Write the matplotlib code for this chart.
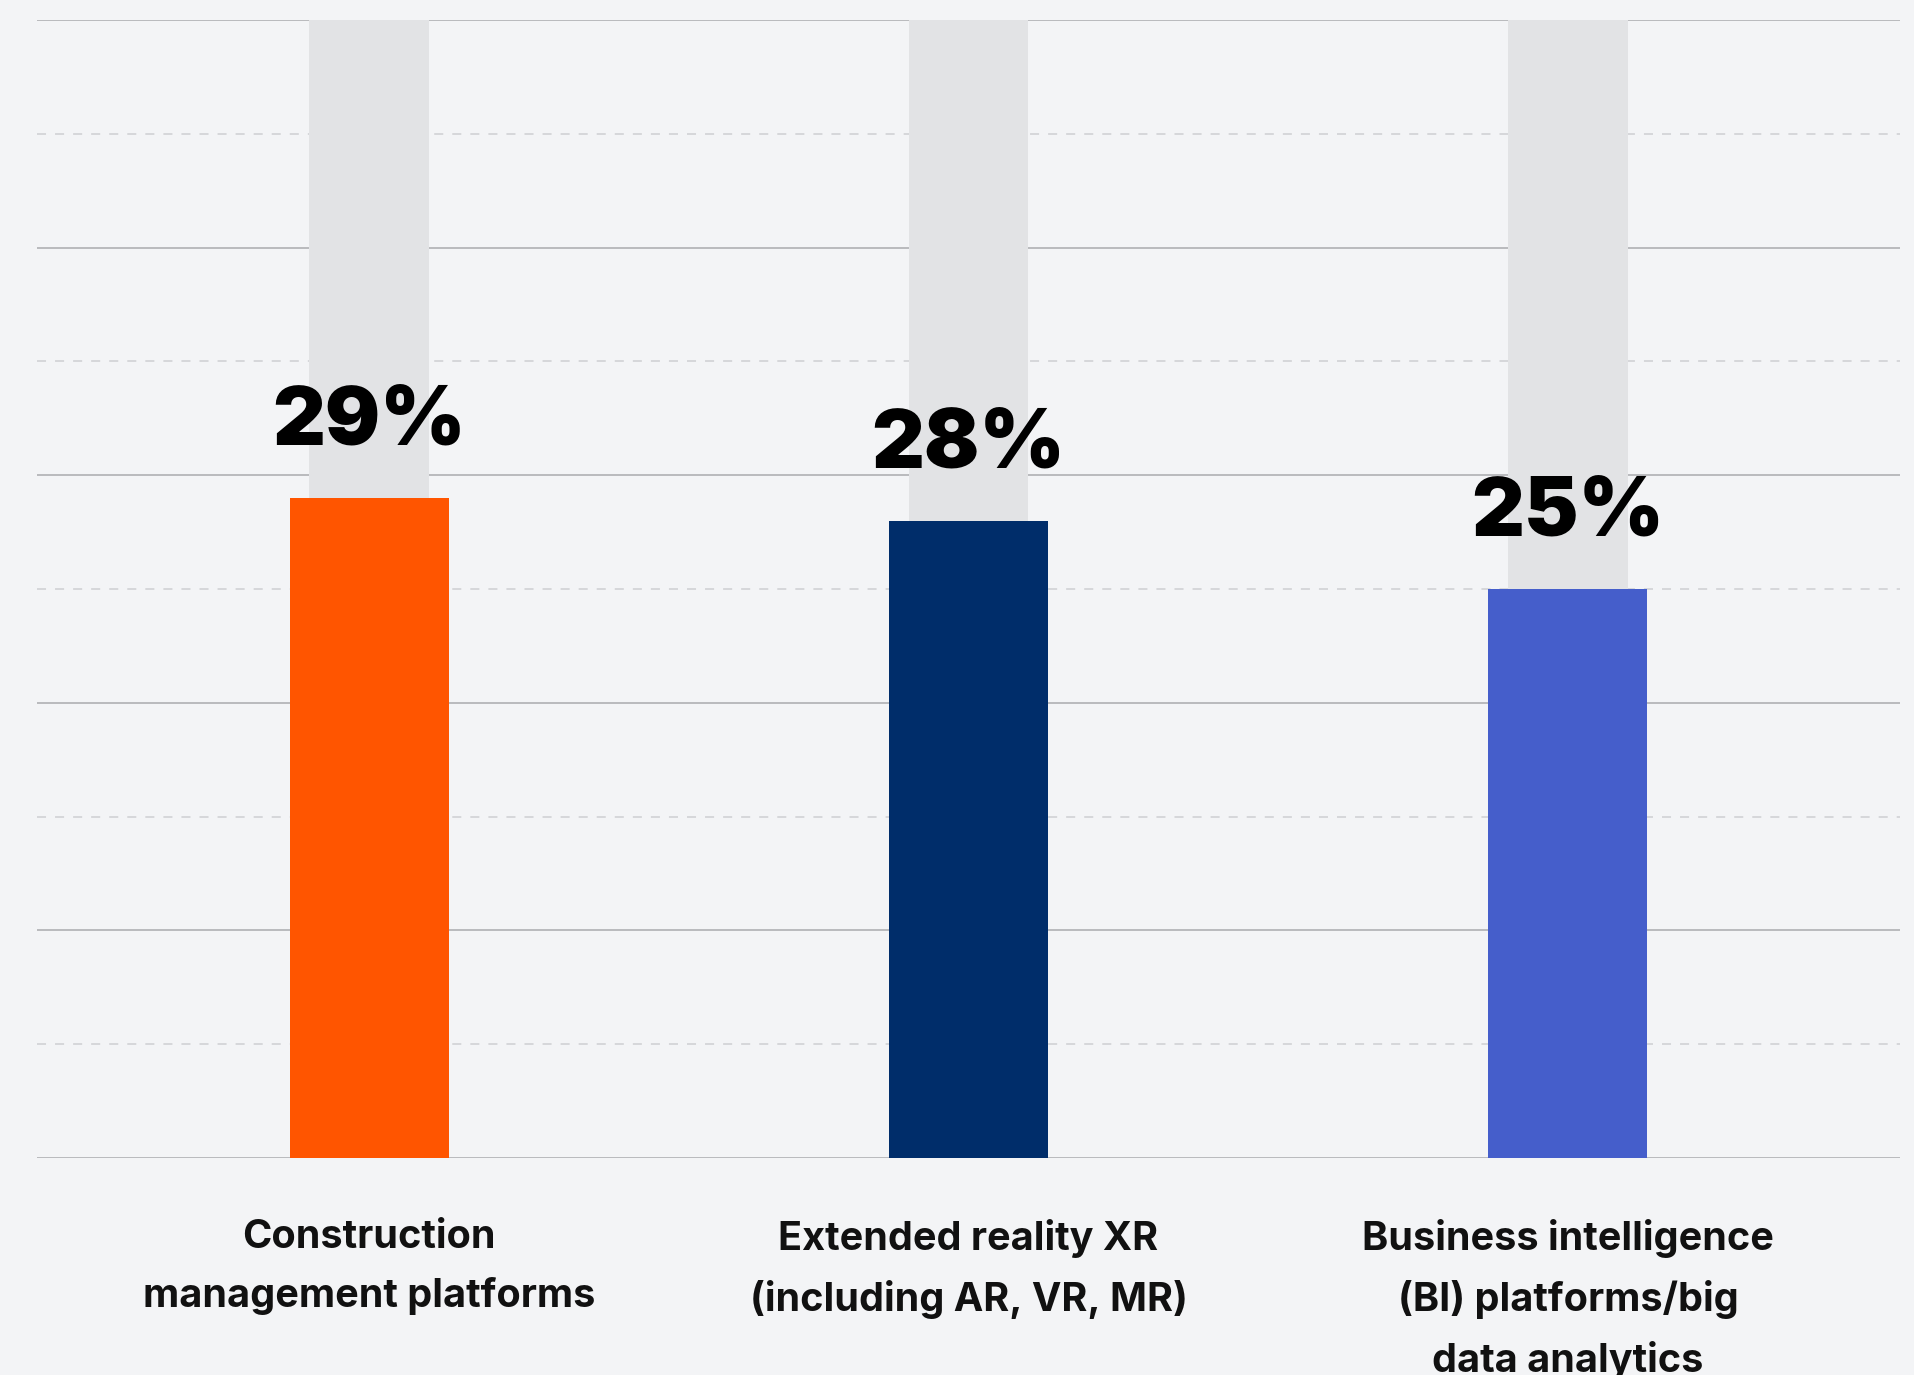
import matplotlib.pyplot as plt
import numpy as np

# adoption share by technology
categories = [
    "Construction\nmanagement platforms",
    "Extended reality XR\n(including AR, VR, MR)",
    "Business intelligence\n(BI) platforms/big\ndata analytics",
]
values = [29, 28, 25]
value_labels = ["29%", "28%", "25%"]
bar_colors = ["#FF5500", "#002D6A", "#455ECB"]
y_max = 50

bg = "#F3F4F6"

fig = plt.figure(figsize=(19.15, 13.75), dpi=100, facecolor=bg)
ax = fig.add_axes([37 / 1915, 1 - 1158 / 1375, (1900 - 37) / 1915, (1158 - 20) / 1375])
ax.set_facecolor(bg)

x = np.arange(len(categories))

# gridlines: solid every 10, dashed in between
for v in range(0, y_max + 1, 5):
    if v % 10 == 0:
        ax.axhline(v, color="#B4B5B9", linewidth=1.3, zorder=1)
    else:
        ax.axhline(v, color="#D3D4D7", linewidth=1.3, linestyle=(0, (5, 5)), zorder=1)

# track behind each bar, then the value bar
ax.bar(x, [y_max] * len(x), width=0.2, color="#E2E3E5", zorder=2)
ax.bar(x, values, width=0.265, color=bar_colors, zorder=3)

for xi, v, lbl in zip(x, values, value_labels):
    ax.annotate(lbl, (xi, v), xytext=(0, 26), textcoords="offset points",
                ha="center", va="bottom", fontsize=59, fontweight="black",
                family="Inter", color="#000000", zorder=4)

for xi, cat in zip(x, categories):
    ax.text(xi, -2.7, cat, ha="center", va="top", fontsize=28.5,
            fontweight="bold", family="Inter", color="#111111",
            linespacing=1.7, clip_on=False)

ax.set_xlim(-0.554, 2.554)
ax.set_ylim(0, y_max)
ax.set_xticks([])
ax.set_yticks([])
for s in ax.spines.values():
    s.set_visible(False)

fig.savefig("out.png", dpi=100, facecolor=bg)
